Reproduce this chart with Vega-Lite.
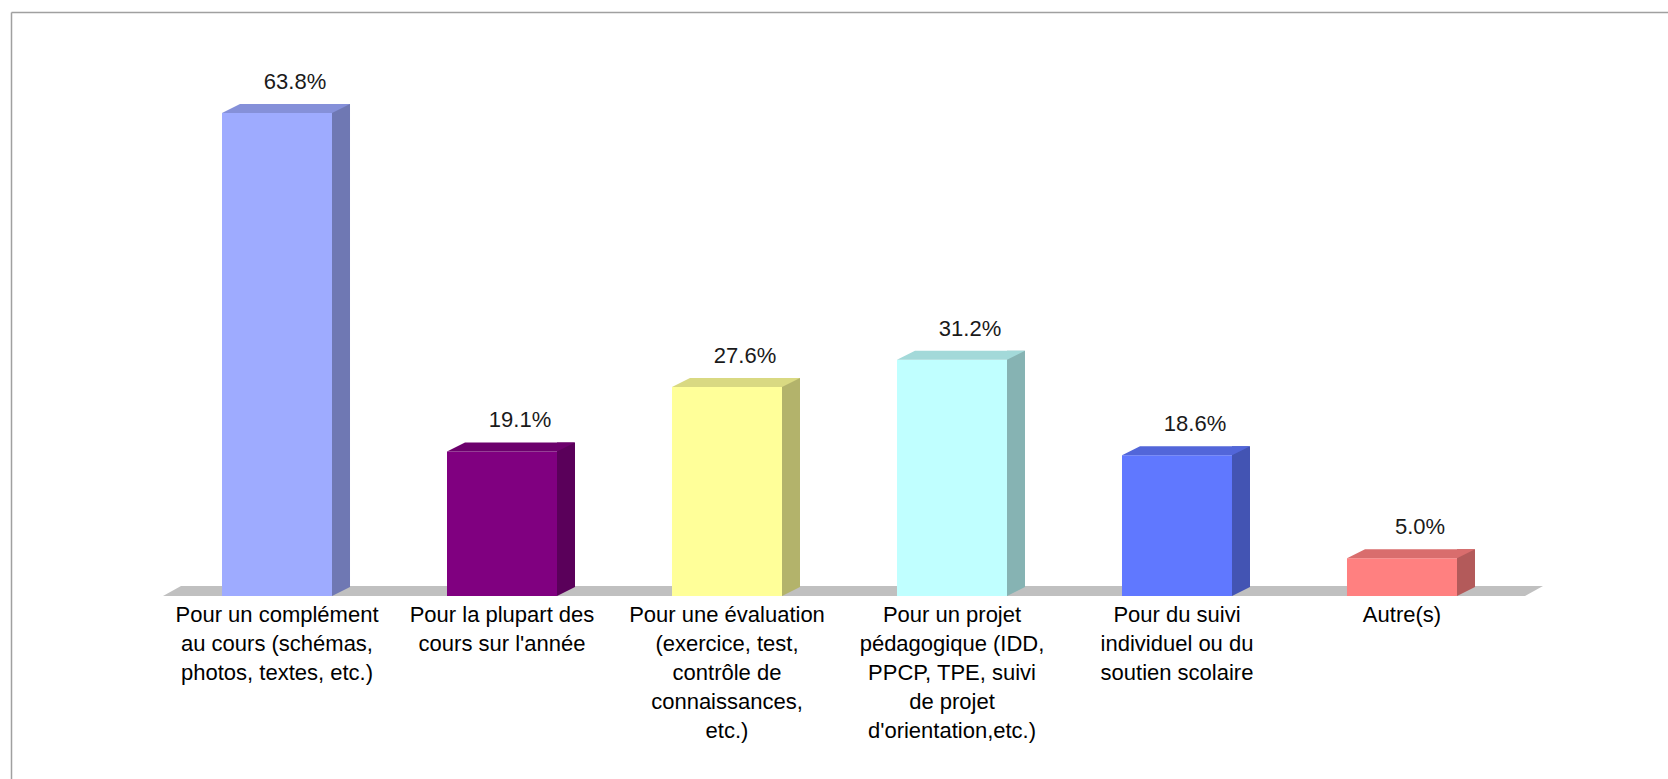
{
  "$schema": "https://vega.github.io/schema/vega-lite/v6.json",
  "width": 1657,
  "height": 767,
  "autosize": {"type": "none"},
  "padding": {"left": 11, "top": 12, "right": 0, "bottom": 0},
  "background": "#ffffff",
  "config": {"view": {"stroke": null}, "font": "Liberation Sans"},
  "data": {"values": [
    {"category": "Pour un complément|au cours (schémas,|photos, textes, etc.)", "value": 0.638},
    {"category": "Pour la plupart des|cours sur l'année", "value": 0.191},
    {"category": "Pour une évaluation|(exercice, test,|contrôle de|connaissances,|etc.)", "value": 0.276},
    {"category": "Pour un projet|pédagogique (IDD,|PPCP, TPE, suivi|de projet|d'orientation,etc.)", "value": 0.312},
    {"category": "Pour du suivi|individuel ou du|soutien scolaire", "value": 0.186},
    {"category": "Autre(s)", "value": 0.05}
  ]},
  "encoding": {
    "x": {"field": "category", "type": "nominal", "sort": null,
          "scale": {"paddingInner": 0.5111, "paddingOuter": 0.9378, "align": 0.5},
          "axis": {"orient": "bottom", "offset": -183, "title": null, "domain": false, "ticks": false, "grid": false, "labelAngle": 0, "labelPadding": 8, "labelFontSize": 22, "labelFont": "Liberation Sans", "labelColor": "#000000", "labelLimit": 0, "labelLineHeight": 29, "labelBaseline": "top", "labelAlign": "center", "labelExpr": "split(datum.label, '|')"}},
    "y": {"field": "value", "type": "quantitative",
          "scale": {"domain": [-0.2417, 0.7715], "nice": false, "zero": false},
          "axis": {"orient": "left", "title": null, "labels": false, "ticks": false, "domain": true, "domainColor": "#a0a0a0", "domainWidth": 1.5, "grid": true, "values": [0.7715], "gridColor": "#a0a0a0", "gridWidth": 1.5, "gridOpacity": 1}}
  },
  "resolve": {"scale": {"color": "independent"}},
  "layer": [
    {
      "mark": {"type": "point", "shape": "M-114,0L123,0L141,-10L-96,-10Z", "size": 4, "filled": true, "opacity": 1, "strokeWidth": 0, "color": "#c0c0c0"},
      "encoding": {
        "y": {"datum": 0, "type": "quantitative"}
      }
    },
    {
      "mark": {"type": "bar"},
      "encoding": {
        "y2": {"datum": 0},
        "color": {"field": "category", "type": "nominal", "sort": null, "legend": null,
                  "scale": {"range": ["#9eabff", "#800080", "#ffff99", "#c0ffff", "#6078ff", "#ff8080"]}}
      }
    },
    {
      "mark": {"type": "bar", "width": 18, "xOffset": 64, "yOffset": -9, "y2Offset": -9},
      "encoding": {
        "y2": {"datum": 0},
        "color": {"field": "category", "type": "nominal", "sort": null, "legend": null,
                  "scale": {"range": ["#6f78b3", "#5a005a", "#b3b36b", "#86b3b3", "#4354b3", "#b35a5a"]}}
      }
    },
    {
      "mark": {"type": "point", "shape": "M55,0L55,-9L73,-9Z", "size": 4, "filled": true, "opacity": 1, "strokeWidth": 0},
      "encoding": {
        "y": {"datum": 0, "type": "quantitative"},
        "color": {"field": "category", "type": "nominal", "sort": null, "legend": null,
                  "scale": {"range": ["#6f78b3", "#5a005a", "#b3b36b", "#86b3b3", "#4354b3", "#b35a5a"]}}
      }
    },
    {
      "mark": {"type": "point", "shape": "M-55,0L55,0L73,-9L-37,-9Z", "size": 4, "filled": true, "opacity": 1, "strokeWidth": 0},
      "encoding": {
        "color": {"field": "category", "type": "nominal", "sort": null, "legend": null,
                  "scale": {"range": ["#8590d9", "#6c006c", "#d9d982", "#a3d9d9", "#5266d9", "#d96d6d"]}}
      }
    },
    {
      "mark": {"type": "text", "dx": 18, "dy": -24, "baseline": "alphabetic", "align": "center", "fontSize": 22, "font": "Liberation Sans", "color": "#1a1a1a"},
      "encoding": {
        "text": {"field": "value", "type": "quantitative", "format": ".1%"}
      }
    }
  ]
}
